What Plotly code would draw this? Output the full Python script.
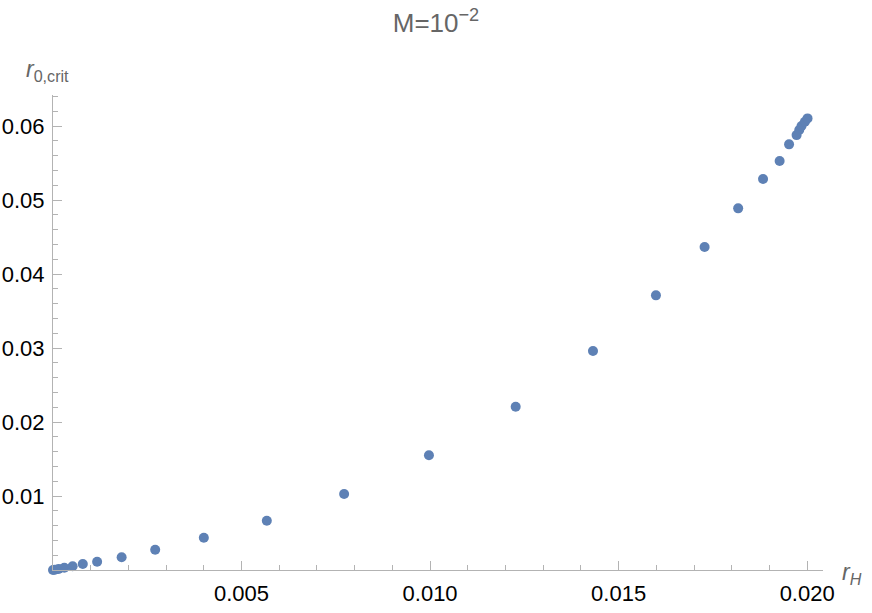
import plotly.graph_objects as go

# r_H values (horizontal) and critical r_0 values (vertical)
r_h = [0.0, 0.00005, 0.00015, 0.0003, 0.00052, 0.00079, 0.00117, 0.00182,
       0.00271, 0.00400, 0.00567, 0.00772, 0.00997, 0.01227, 0.01432, 0.01599,
       0.01728, 0.01817, 0.01883, 0.01927, 0.01952, 0.01972, 0.01979, 0.01985,
       0.01994, 0.02001]
r0_crit = [0.0, 0.00005, 0.00015, 0.0003, 0.0005, 0.00081, 0.00112, 0.00172,
           0.00274, 0.00436, 0.00666, 0.01027, 0.0155, 0.02207, 0.0296, 0.03712,
           0.04365, 0.04888, 0.05284, 0.05527, 0.05753, 0.05878, 0.05946, 0.0600,
           0.06058, 0.06104]

x_ticks = [0.005, 0.010, 0.015, 0.020]
x_ticktext = ["0.005", "0.010", "0.015", "0.020"]
y_ticks = [0.01, 0.02, 0.03, 0.04, 0.05, 0.06]
y_ticktext = ["0.01", "0.02", "0.03", "0.04", "0.05", "0.06"]

FONT = "Liberation Sans, Arial, sans-serif"
AXIS_GREY = "#b3b3b3"

fig = go.Figure()

fig.add_trace(go.Scatter(
    x=r_h,
    y=r0_crit,
    mode="markers",
    marker=dict(size=10, color="#5e81b5"),
    cliponaxis=False,
    showlegend=False,
))

axis_common = dict(
    showgrid=False,
    zeroline=False,
    showline=True,
    automargin=False,
    linecolor=AXIS_GREY,
    linewidth=1,
    ticks="inside",
    ticklen=9,
    tickwidth=1,
    tickcolor=AXIS_GREY,
    tickfont=dict(family=FONT, size=22, color="black"),
)

fig.update_layout(
    width=872,
    height=613,
    margin=dict(l=53, r=49, t=95, b=43),
    plot_bgcolor="white",
    paper_bgcolor="white",
    title=dict(
        text="M=10<sup>\u22122</sup>",
        x=0.5,
        xanchor="center",
        y=0.962,
        yanchor="middle",
        font=dict(family=FONT, size=26, color="#666666"),
    ),
    xaxis=dict(
        range=[0, 0.02042],
        tickmode="array",
        tickvals=x_ticks,
        ticktext=x_ticktext,
        ticklabelstandoff=4,
        minor=dict(
            tickmode="array",
            tickvals=[i * 0.001 for i in range(1, 21) if i % 5],
            ticks="inside",
            ticklen=5,
            tickcolor=AXIS_GREY,
        ),
        **axis_common,
    ),
    yaxis=dict(
        range=[0, 0.0642],
        tickmode="array",
        tickvals=y_ticks,
        ticktext=y_ticktext,
        ticklabelstandoff=3,
        minor=dict(
            tickmode="array",
            tickvals=[i * 0.002 for i in range(1, 33) if i % 5],
            ticks="inside",
            ticklen=5,
            tickcolor=AXIS_GREY,
        ),
        **axis_common,
    ),
    annotations=[
        dict(
            text="<i>r</i><sub>0,crit</sub>",
            xref="paper", yref="paper",
            x=(24 - 53) / 770, y=(570 - 70) / 475,
            xanchor="left", yanchor="middle",
            showarrow=False,
            font=dict(family=FONT, size=23, color="#666666"),
        ),
        dict(
            text="<i>r<sub>H</sub></i>",
            xref="paper", yref="paper",
            x=(840 - 53) / 770, y=(570 - 573) / 475,
            xanchor="left", yanchor="middle",
            showarrow=False,
            font=dict(family=FONT, size=23, color="#666666"),
        ),
    ],
)

# the page body has a default 8px margin; drop it so the figure sits at 0,0
fig.write_html(
    "out.html",
    config={"displayModeBar": False},
    post_script="document.body.style.margin='0';",
)
